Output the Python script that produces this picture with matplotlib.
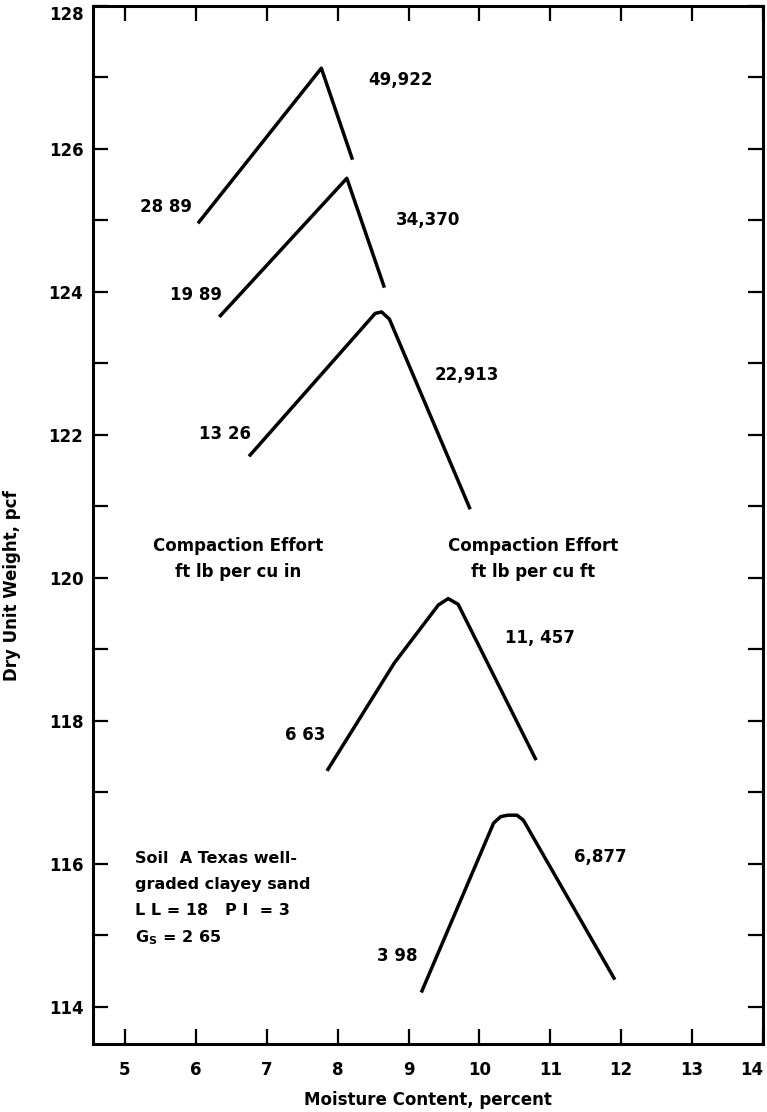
import matplotlib
matplotlib.use("Agg")
from matplotlib import pyplot as plt
import numpy as np

# compaction curves: moisture content (%) vs dry unit weight (pcf)
moist_49922 = [6.03, 7.77, 8.21]
dry_49922 = [124.96, 127.13, 125.85]

moist_34370 = [6.33, 8.13, 8.66]
dry_34370 = [123.65, 125.59, 124.06]

moist_22913 = [6.75, 8.53, 8.62, 8.73, 9.87]
dry_22913 = [121.70, 123.70, 123.72, 123.62, 120.96]

moist_11457 = [7.85, 8.80, 9.42, 9.56, 9.70, 10.80]
dry_11457 = [117.30, 118.81, 119.62, 119.71, 119.63, 117.45]

moist_6877 = [9.18, 10.20, 10.30, 10.40, 10.53, 10.62, 11.91]
dry_6877 = [114.20, 116.57, 116.66, 116.68, 116.68, 116.61, 114.38]

curves = [
    (moist_49922, dry_49922),
    (moist_34370, dry_34370),
    (moist_22913, dry_22913),
    (moist_11457, dry_11457),
    (moist_6877, dry_6877),
]

# effort labels, ft lb per cu ft (right of peak) and ft lb per cu in (left end)
effort_cuft = ["49,922", "34,370", "22,913", "11, 457", "6,877"]
cuft_pos = [(8.43, 126.97), (8.82, 125.01), (9.37, 122.84), (10.36, 119.16), (11.33, 116.10)]
effort_cuin = ["28 89", "19 89", "13 26", "6 63", "3 98"]
cuin_pos = [(5.94, 125.19), (6.37, 123.96), (6.78, 122.01), (7.83, 117.80), (9.13, 114.71)]

x_ticks = np.arange(5, 15)
y_ticks = np.arange(114, 129)
y_labels = [str(v) if v % 2 == 0 else "" for v in y_ticks]

plt.rcParams["font.family"] = ["DejaVu Sans"]
plt.rcParams["font.weight"] = "bold"
plt.rcParams["mathtext.fontset"] = "dejavusans"

fig = plt.figure(figsize=(7.67, 11.12), dpi=100)
ax = fig.add_axes([0.1213, 0.0612, 0.8735, 0.9334])

for mx, dy in curves:
    ax.plot(mx, dy, color="black", lw=2.5, solid_joinstyle="round", solid_capstyle="butt")

for txt, (x, y) in zip(effort_cuft, cuft_pos):
    ax.text(x, y, txt, ha="left", va="center", fontsize=12, fontweight="bold")
for txt, (x, y) in zip(effort_cuin, cuin_pos):
    ax.text(x, y, txt, ha="right", va="center", fontsize=12, fontweight="bold")

ax.text(6.60, 120.45, "Compaction Effort", ha="center", va="center", fontsize=12, fontweight="bold")
ax.text(6.60, 120.08, "ft lb per cu in", ha="center", va="center", fontsize=12, fontweight="bold")
ax.text(10.76, 120.45, "Compaction Effort", ha="center", va="center", fontsize=12, fontweight="bold")
ax.text(10.76, 120.08, "ft lb per cu ft", ha="center", va="center", fontsize=12, fontweight="bold")

soil_lines = ["Soil  A Texas well-", "graded clayey sand", "L L = 18   P I  = 3", r"G$_{\mathbf{S}}$ = 2 65"]
for i, line in enumerate(soil_lines):
    ax.text(5.14, 116.08 - i * 0.37, line, ha="left", va="center", fontsize=11.5, fontweight="bold")

ax.set_xlim(4.55, 14.0)
ax.set_ylim(113.48, 128.0)
ax.set_xticks(x_ticks)
ax.set_xticklabels([str(v) for v in x_ticks], fontsize=12, fontweight="bold")
ax.get_xticklabels()[-1].set_horizontalalignment("right")
ax.set_yticks(y_ticks)
ax.set_yticklabels(y_labels, fontsize=12, fontweight="bold")
ax.get_yticklabels()[-1].set_verticalalignment("top")

ax.tick_params(axis="x", direction="in", length=11, width=1.6, pad=12, top=True)
ax.tick_params(axis="y", direction="in", length=11, width=1.6, pad=7, right=True)

for sp in ax.spines.values():
    sp.set_linewidth(2.2)

ax.set_xlabel("Moisture Content, percent", fontsize=12, fontweight="bold", labelpad=9)
ax.set_ylabel("Dry Unit Weight, pcf", fontsize=12, fontweight="bold")
ax.yaxis.set_label_coords(-0.108, 0.442)

fig.savefig("out.png", dpi=100)
